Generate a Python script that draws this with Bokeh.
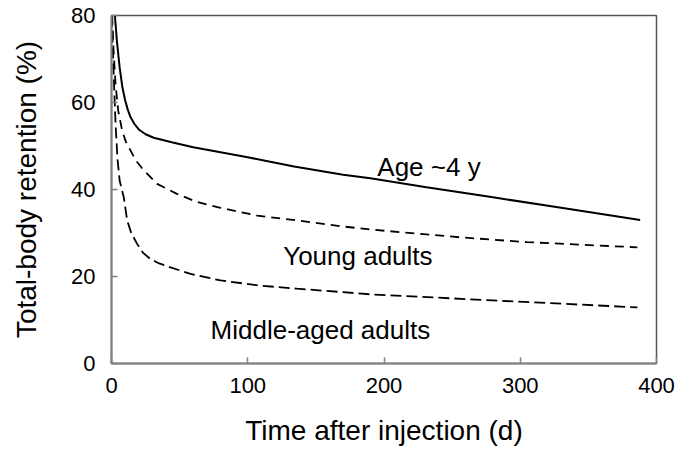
from bokeh.plotting import figure
from bokeh.models import Label, FixedTicker
from bokeh.embed import file_html
from bokeh.resources import INLINE

# Data (time in days, total-body retention in %)
age4_t = [2.5, 4, 6, 8, 10, 12, 14, 17, 20, 25, 31, 45, 60, 97, 134, 170, 190, 230, 280, 330, 388]
age4_r = [80, 74, 68, 63.5, 60.5, 58.3, 56.6, 55.0, 53.8, 52.7, 51.9, 50.8, 49.7, 47.6, 45.3, 43.4, 42.6, 40.6, 38.2, 35.8, 33.0]

young_t = [0.5, 1.5, 3, 5, 7.8, 10.5, 13.9, 18, 23.7, 33.5, 48, 63, 80, 107, 136, 170, 190, 256, 305, 386]
young_r = [80, 72, 64, 58, 53.6, 51, 49, 46.6, 44.4, 41.3, 39, 37.1, 35.8, 34.0, 32.9, 31.5, 30.8, 29.0, 27.9, 26.7]

middle_t = [0.3, 1, 2, 3, 4.4, 6, 9, 11.5, 14.5, 18.8, 23, 28.6, 35, 43.3, 58, 80, 109, 136, 170, 190, 280, 386]
middle_r = [80, 72, 63, 55, 47, 42, 38.2, 32.9, 30, 27.5, 25.5, 24, 23, 22.1, 20.6, 19.1, 17.9, 17.2, 16.4, 15.9, 14.5, 12.9]

x_ticks = [0, 100, 200, 300, 400]
y_ticks = [0, 20, 40, 60, 80]

FONT = "Liberation Sans"

p = figure(width=675, height=449, x_range=(0, 400), y_range=(0, 80),
           output_backend="svg", toolbar_location=None,
           min_border_left=111, min_border_right=19, min_border_top=15, min_border_bottom=86)

p.line(age4_t, age4_r, line_color="black", line_width=2)
p.line(young_t, young_r, line_color="black", line_width=1.8, line_dash="9 6")
p.line(middle_t, middle_r, line_color="black", line_width=1.8, line_dash="11 5")

p.xgrid.visible = False
p.ygrid.visible = False
p.outline_line_color = "#555555"
p.outline_line_width = 1.5
p.background_fill_color = "white"
p.border_fill_color = "white"

for ax in (p.xaxis[0], p.yaxis[0]):
    ax.axis_line_color = "#808080"
    ax.axis_line_width = 2
    ax.major_tick_line_color = "#808080"
    ax.major_tick_line_width = 1.5
    ax.major_tick_in = 6
    ax.major_tick_out = 0
    ax.minor_tick_line_color = None
    ax.major_label_text_font = FONT
    ax.major_label_text_font_size = "22px"
    ax.major_label_text_color = "black"
    ax.axis_label_text_font = FONT
    ax.axis_label_text_font_size = "28px"
    ax.axis_label_text_font_style = "normal"
    ax.axis_label_text_color = "black"

p.xaxis.ticker = FixedTicker(ticks=x_ticks)
p.yaxis.ticker = FixedTicker(ticks=y_ticks)
p.xaxis.axis_label = "Time after injection (d)"
p.yaxis.axis_label = "Total-body retention (%)"
p.xaxis.major_label_standoff = 14
p.yaxis.major_label_standoff = 16
p.xaxis.axis_label_standoff = 19
p.yaxis.axis_label_standoff = 26

for txt, x, y, align in [("Age ~4 y", 233, 45.1, "center"),
                         ("Young adults", 126, 24.6, "left"),
                         ("Middle-aged adults", 72.7, 7.6, "left")]:
    p.add_layout(Label(x=x, y=y, text=txt, text_font=FONT, text_font_size="26px",
                       text_align=align, text_baseline="alphabetic", text_color="black"))

open("out.html", "w").write(file_html(p, INLINE))
